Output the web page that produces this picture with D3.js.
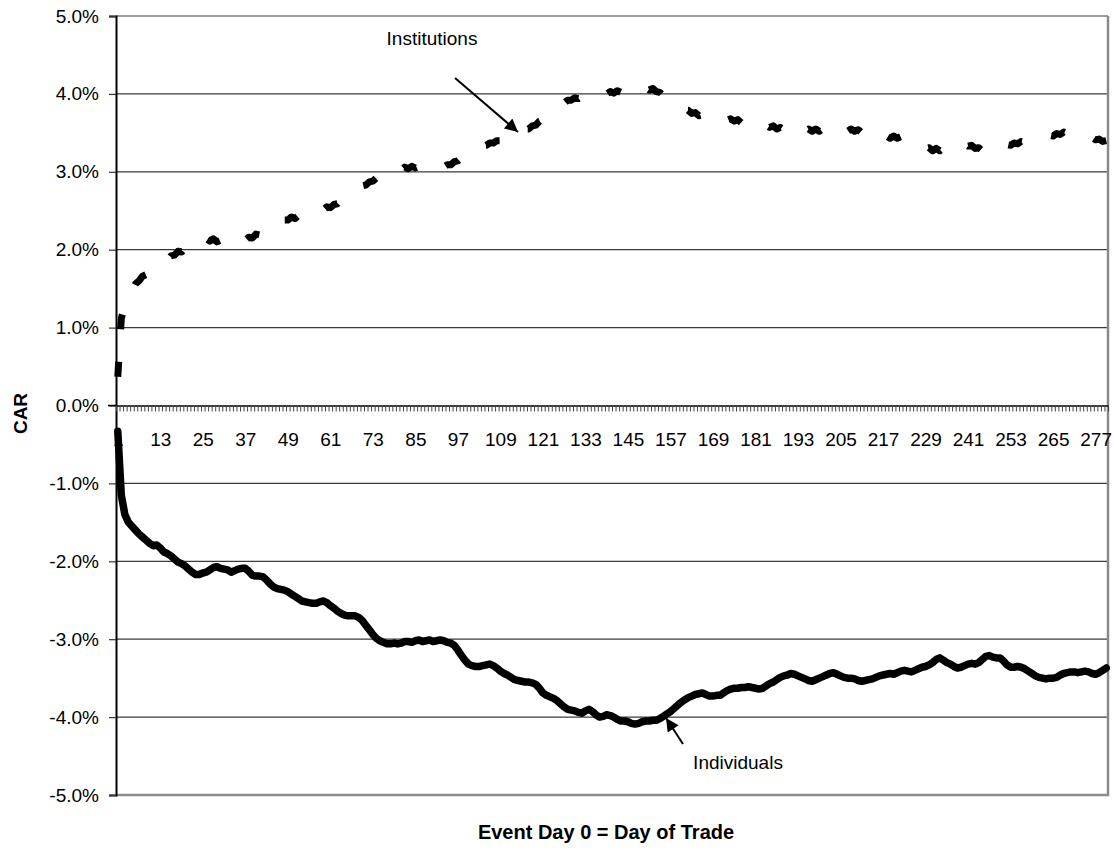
<!DOCTYPE html>
<html>
<head>
<meta charset="utf-8">
<script src="https://cdn.jsdelivr.net/npm/d3@7"></script>
<style>
  body { margin: 0; background: #fff; }
  svg text { font-family: Arial, "Liberation Sans", sans-serif; fill: #000; }
  .axis text { font-size: 19px; }
  .axis-title { font-size: 19px; font-weight: bold; }
</style>
</head>
<body>
<div id="chart"></div>
<script>
// CAR in percent, event days 1..280
const individuals = [
  -0.33, -1.15, -1.40, -1.50, -1.55, -1.60, -1.65, -1.69, -1.73, -1.77,
  -1.80, -1.79, -1.83, -1.88, -1.90, -1.93, -1.97, -2.01, -2.03, -2.06,
  -2.10, -2.14, -2.17, -2.17, -2.15, -2.14, -2.11, -2.08, -2.07, -2.09,
  -2.10, -2.11, -2.14, -2.12, -2.10, -2.09, -2.09, -2.13, -2.18, -2.19,
  -2.19, -2.20, -2.24, -2.29, -2.33, -2.35, -2.36, -2.37, -2.39, -2.42,
  -2.45, -2.48, -2.51, -2.52, -2.53, -2.54, -2.54, -2.52, -2.51, -2.53,
  -2.57, -2.60, -2.64, -2.67, -2.69, -2.70, -2.70, -2.70, -2.72, -2.76,
  -2.82, -2.88, -2.94, -2.99, -3.02, -3.04, -3.06, -3.06, -3.05, -3.06,
  -3.05, -3.03, -3.03, -3.04, -3.02, -3.01, -3.03, -3.02, -3.01, -3.03,
  -3.02, -3.01, -3.02, -3.04, -3.05, -3.08, -3.14, -3.21, -3.27, -3.32,
  -3.34, -3.35, -3.35, -3.34, -3.33, -3.32, -3.34, -3.37, -3.41, -3.44,
  -3.46, -3.49, -3.52, -3.53, -3.54, -3.55, -3.55, -3.56, -3.58, -3.63,
  -3.69, -3.72, -3.74, -3.76, -3.79, -3.83, -3.87, -3.90, -3.91, -3.92,
  -3.94, -3.95, -3.92, -3.90, -3.93, -3.97, -4.00, -3.99, -3.97, -3.98,
  -4.00, -4.03, -4.05, -4.05, -4.06, -4.08, -4.09, -4.08, -4.06, -4.05,
  -4.05, -4.04, -4.04, -4.02, -3.99, -3.96, -3.93, -3.89, -3.85, -3.81,
  -3.78, -3.75, -3.73, -3.71, -3.70, -3.69, -3.71, -3.73, -3.73, -3.72,
  -3.72, -3.69, -3.66, -3.64, -3.63, -3.63, -3.62, -3.62, -3.61, -3.62,
  -3.63, -3.64, -3.63, -3.60, -3.57, -3.55, -3.52, -3.49, -3.47, -3.46,
  -3.44, -3.45, -3.47, -3.49, -3.51, -3.53, -3.54, -3.52, -3.50, -3.48,
  -3.46, -3.44, -3.43, -3.45, -3.47, -3.49, -3.50, -3.50, -3.51, -3.53,
  -3.54, -3.53, -3.52, -3.51, -3.49, -3.47, -3.46, -3.45, -3.44, -3.45,
  -3.43, -3.41, -3.40, -3.41, -3.42, -3.40, -3.38, -3.36, -3.35, -3.33,
  -3.30, -3.26, -3.24, -3.27, -3.30, -3.32, -3.35, -3.37, -3.36, -3.34,
  -3.32, -3.31, -3.32, -3.30, -3.26, -3.22, -3.21, -3.23, -3.24, -3.24,
  -3.28, -3.33, -3.36, -3.36, -3.35, -3.36, -3.38, -3.41, -3.44, -3.47,
  -3.49, -3.50, -3.51, -3.50, -3.50, -3.49, -3.46, -3.44, -3.43, -3.42,
  -3.42, -3.43, -3.42, -3.41, -3.42, -3.44, -3.45, -3.43, -3.40, -3.37
]

const institutions = [
  0.37, 1.12, 1.28, 1.40, 1.47, 1.56, 1.60, 1.66, 1.68, 1.74,
  1.75, 1.80, 1.81, 1.86, 1.86, 1.92, 1.93, 1.98, 1.97, 2.02,
  2.01, 2.06, 2.04, 2.09, 2.08, 2.14, 2.11, 2.14, 2.10, 2.12,
  2.08, 2.10, 2.07, 2.11, 2.09, 2.13, 2.12, 2.16, 2.15, 2.20,
  2.19, 2.24, 2.23, 2.28, 2.28, 2.33, 2.33, 2.38, 2.38, 2.42,
  2.40, 2.44, 2.43, 2.47, 2.45, 2.49, 2.48, 2.52, 2.51, 2.55,
  2.54, 2.58, 2.59, 2.64, 2.65, 2.70, 2.71, 2.76, 2.77, 2.82,
  2.83, 2.87, 2.88, 2.92, 2.93, 2.97, 2.97, 3.01, 3.00, 3.04,
  3.02, 3.06, 3.04, 3.07, 3.05, 3.07, 3.04, 3.06, 3.03, 3.05,
  3.04, 3.07, 3.06, 3.09, 3.09, 3.13, 3.14, 3.18, 3.19, 3.24,
  3.25, 3.29, 3.30, 3.34, 3.34, 3.37, 3.37, 3.40, 3.40, 3.44,
  3.43, 3.47, 3.47, 3.51, 3.52, 3.55, 3.55, 3.59, 3.60, 3.65,
  3.67, 3.72, 3.74, 3.79, 3.81, 3.86, 3.88, 3.92, 3.92, 3.95,
  3.94, 3.97, 3.96, 3.99, 3.98, 4.01, 3.99, 4.02, 4.00, 4.03,
  4.01, 4.04, 4.02, 4.05, 4.03, 4.06, 4.04, 4.07, 4.05, 4.08,
  4.05, 4.07, 4.03, 4.02, 3.97, 3.95, 3.90, 3.88, 3.84, 3.83,
  3.79, 3.79, 3.75, 3.76, 3.72, 3.73, 3.70, 3.71, 3.68, 3.70,
  3.66, 3.69, 3.66, 3.68, 3.65, 3.67, 3.63, 3.65, 3.61, 3.63,
  3.59, 3.61, 3.58, 3.60, 3.57, 3.59, 3.55, 3.57, 3.54, 3.56,
  3.52, 3.55, 3.52, 3.55, 3.52, 3.55, 3.52, 3.55, 3.52, 3.55,
  3.52, 3.55, 3.52, 3.55, 3.52, 3.55, 3.52, 3.55, 3.52, 3.54,
  3.50, 3.52, 3.48, 3.50, 3.46, 3.48, 3.44, 3.46, 3.43, 3.46,
  3.43, 3.45, 3.41, 3.42, 3.38, 3.38, 3.34, 3.34, 3.30, 3.31,
  3.27, 3.30, 3.27, 3.31, 3.29, 3.33, 3.32, 3.35, 3.33, 3.36,
  3.33, 3.34, 3.30, 3.31, 3.27, 3.28, 3.25, 3.29, 3.28, 3.32,
  3.31, 3.35, 3.34, 3.37, 3.36, 3.39, 3.38, 3.41, 3.40, 3.43,
  3.42, 3.45, 3.44, 3.47, 3.46, 3.49, 3.48, 3.51, 3.49, 3.51,
  3.48, 3.49, 3.46, 3.46, 3.43, 3.44, 3.41, 3.42, 3.39, 3.40
]

const days = individuals.map((_, i) => i + 1)
const xTickLabels = [1, 13, 25, 37, 49, 61, 73, 85, 97, 109, 121, 133, 145, 157, 169, 181, 193, 205, 217, 229, 241, 253, 265, 277]
const yTicks = [-5, -4, -3, -2, -1, 0, 1, 2, 3, 4, 5]

const W = 1114
const H = 850
const plot = { left: 116, right: 1108, top: 16, bottom: 795 }

const svg = d3.select('#chart').append('svg').attr('width', W).attr('height', H)

const x = d3.scaleBand().domain(days).range([plot.left, plot.right]).padding(0)
const xEdge = d3.scaleLinear().domain([0, days.length]).range([plot.left, plot.right])
const y = d3.scaleLinear().domain([-5, 5]).range([plot.bottom, plot.top])
const cx = (d) => x(d) + x.bandwidth() / 2

// gridlines
svg
  .append('g')
  .selectAll('line')
  .data(yTicks.filter((t) => t !== 0 && t !== -5))
  .join('line')
  .attr('x1', plot.left)
  .attr('x2', plot.right)
  .attr('y1', (d) => y(d))
  .attr('y2', (d) => y(d))
  .attr('stroke', '#3a3a3a')
  .attr('stroke-width', 1.2)

// plot border right and bottom
svg
  .append('path')
  .attr('d', `M${plot.right},${plot.top}V${plot.bottom}H${plot.left}`)
  .attr('fill', 'none')
  .attr('stroke', '#8a8a8a')
  .attr('stroke-width', 2.5)

// y axis
const yAxis = svg
  .append('g')
  .attr('class', 'axis')
  .attr('transform', `translate(${plot.left},0)`)
  .call(
    d3
      .axisLeft(y)
      .tickValues(yTicks)
      .tickFormat((d) => d.toFixed(1) + '%')
      .tickSize(7)
      .tickPadding(10)
  )
yAxis.select('.domain').attr('stroke', '#000').attr('stroke-width', 2)
yAxis.selectAll('.tick line').attr('stroke', '#333').attr('stroke-width', 1.2)

// x axis at 0%: small tick marks at every category boundary
const xAxis = svg
  .append('g')
  .attr('transform', `translate(0,${y(0)})`)
  .call(d3.axisBottom(xEdge).tickValues(d3.range(0, days.length + 1)).tickSize(6).tickSizeOuter(0).tickFormat(''))
xAxis.select('.domain').attr('stroke', '#000').attr('stroke-width', 1.5)
xAxis.selectAll('.tick line').attr('stroke', '#444').attr('stroke-width', 1)

svg
  .append('line')
  .attr('x1', plot.left - 8)
  .attr('x2', plot.left)
  .attr('y1', y(0))
  .attr('y2', y(0))
  .attr('stroke', '#000')
  .attr('stroke-width', 1.5)

// category labels
const xLabels = svg
  .append('g')
  .attr('class', 'axis')
  .attr('transform', `translate(0,${y(0)})`)
  .call(
    d3
      .axisBottom(d3.scalePoint().domain(days).range([cx(1), cx(days.length)]))
      .tickValues(xTickLabels)
      .tickSize(0)
      .tickPadding(27)
  )
xLabels.select('.domain').remove()

// axis titles
svg
  .append('text')
  .attr('class', 'axis-title')
  .attr('transform', `translate(27,${(plot.top + plot.bottom) / 2 + 8}) rotate(-90)`)
  .attr('text-anchor', 'middle')
  .text('CAR')

svg
  .append('text')
  .attr('class', 'axis-title')
  .attr('x', 606)
  .attr('y', 839)
  .attr('text-anchor', 'middle')
  .style('font-size', '20px')
  .text('Event Day 0 = Day of Trade')

// series
const line = d3
  .line()
  .x((d, i) => cx(days[i]))
  .y((d) => y(d))

svg
  .append('path')
  .datum(institutions)
  .attr('d', line)
  .attr('fill', 'none')
  .attr('stroke', '#000')
  .attr('stroke-width', 7)
  .attr('stroke-dasharray', '15,32.5')
  .attr('stroke-linejoin', 'round')

svg
  .append('path')
  .datum(individuals)
  .attr('d', line)
  .attr('fill', 'none')
  .attr('stroke', '#000')
  .attr('stroke-width', 7.5)
  .attr('stroke-linejoin', 'round')
  .attr('stroke-linecap', 'round')

// annotations
svg
  .append('defs')
  .append('marker')
  .attr('id', 'arrow')
  .attr('viewBox', '0 0 10 10')
  .attr('refX', 10)
  .attr('refY', 5)
  .attr('markerWidth', 16)
  .attr('markerHeight', 13)
  .attr('markerUnits', 'userSpaceOnUse')
  .attr('orient', 'auto')
  .append('path')
  .attr('d', 'M0,0L10,5L0,10Z')
  .attr('fill', '#000')

const notes = [
  { label: 'Institutions', tx: 432, ty: 45, x1: 455, y1: 78, x2: 518, y2: 132 },
  { label: 'Individuals', tx: 738, ty: 769, x1: 683, y1: 744, x2: 666, y2: 718 },
]

svg
  .selectAll('.note-line')
  .data(notes)
  .join('line')
  .attr('x1', (d) => d.x1)
  .attr('y1', (d) => d.y1)
  .attr('x2', (d) => d.x2)
  .attr('y2', (d) => d.y2)
  .attr('stroke', '#000')
  .attr('stroke-width', 2)
  .attr('marker-end', 'url(#arrow)')

svg
  .selectAll('.note-text')
  .data(notes)
  .join('text')
  .attr('x', (d) => d.tx)
  .attr('y', (d) => d.ty)
  .attr('text-anchor', 'middle')
  .style('font-size', '19px')
  .text((d) => d.label)
</script>
</body>
</html>
